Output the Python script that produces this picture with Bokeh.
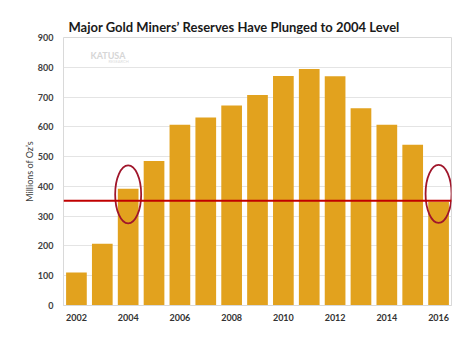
from bokeh.plotting import figure
from bokeh.models import ColumnDataSource, FixedTicker, Span, Label
from bokeh.embed import file_html
from bokeh.resources import INLINE

years = list(range(2002, 2017))
reserves = [111, 207, 392, 485, 607, 631, 672, 707, 771, 794, 770, 662, 607, 540, 348]
tick_values = [0, 100, 200, 300, 400, 500, 600, 700, 800, 900]
label_years = [2002, 2004, 2006, 2008, 2010, 2012, 2014, 2016]
reference_level = 352
circled_years = [2004, 2016]
circle_centers = [373, 375]

FONT = "Lato"

p = figure(x_range=(2001.5, 2016.5), y_range=(0, 900), width=476, height=345,
           output_backend="svg", toolbar_location=None,
           min_border_left=63, min_border_right=25, min_border_bottom=40, min_border_top=37)

p.title.text = "Major Gold Miners\u2019 Reserves Have Plunged to 2004 Level"
p.title.text_font = FONT
p.title.text_font_size = "13px"
p.title.text_font_style = "bold"
p.title.text_color = "#1a1a1a"
p.title.align = "left"
p.title.offset = 5
p.title.standoff = 6

src = ColumnDataSource(dict(x=years, top=reserves))
p.vbar(x="x", top="top", width=0.8, source=src, fill_color="#E2A21E", line_color=None)

span = Span(location=reference_level, dimension="width", line_color="#C00000", line_width=2)
p.add_layout(span)

esrc = ColumnDataSource(dict(x=circled_years, y=circle_centers))
p.ellipse(x="x", y="y", width=26, height=58, width_units="screen", height_units="screen",
          source=esrc, fill_color=None, line_color="#A0162B", line_width=1.8)

p.yaxis.ticker = FixedTicker(ticks=tick_values)
p.yaxis.axis_label = "Millions of Oz\u2019s"
p.yaxis.axis_label_text_font = FONT
p.yaxis.axis_label_text_font_size = "9px"
p.yaxis.axis_label_text_font_style = "normal"
p.yaxis.axis_label_text_color = "#404040"
p.yaxis.axis_label_standoff = 0
p.yaxis.major_label_text_font = FONT
p.yaxis.major_label_text_font_size = "9px"
p.yaxis.major_label_text_font_style = "bold"
p.yaxis.major_label_text_color = "#404040"
p.yaxis.axis_line_color = None
p.yaxis.major_tick_line_color = None
p.yaxis.minor_tick_line_color = None
p.yaxis.major_tick_out = 0
p.yaxis.major_label_standoff = 10

p.xaxis.ticker = FixedTicker(ticks=label_years)
p.xaxis.major_label_text_font = FONT
p.xaxis.major_label_text_font_size = "9px"
p.xaxis.major_label_text_font_style = "bold"
p.xaxis.major_label_text_color = "#333333"
p.xaxis.axis_line_color = "#d9d9d9"
p.xaxis.major_tick_line_color = None
p.xaxis.minor_tick_line_color = None
p.xaxis.major_tick_out = 0
p.xaxis.major_label_standoff = 8

p.xgrid.grid_line_color = None
p.ygrid.grid_line_color = "#e4e4e4"
p.outline_line_color = "#d9d9d9"

p.add_layout(Label(x=2001.5, y=840, text="KATUSA",
                   x_offset=27, text_font=FONT, text_font_size="9px", text_baseline="middle",
                   text_color="#d6d6d6", text_font_style="bold"))
p.add_layout(Label(x=2001.5, y=818, text="RESEARCH",
                   x_offset=45, text_font=FONT, text_font_size="4px", text_baseline="middle",
                   text_color="#dddddd"))

open("out.html", "w").write(file_html(p, INLINE))
